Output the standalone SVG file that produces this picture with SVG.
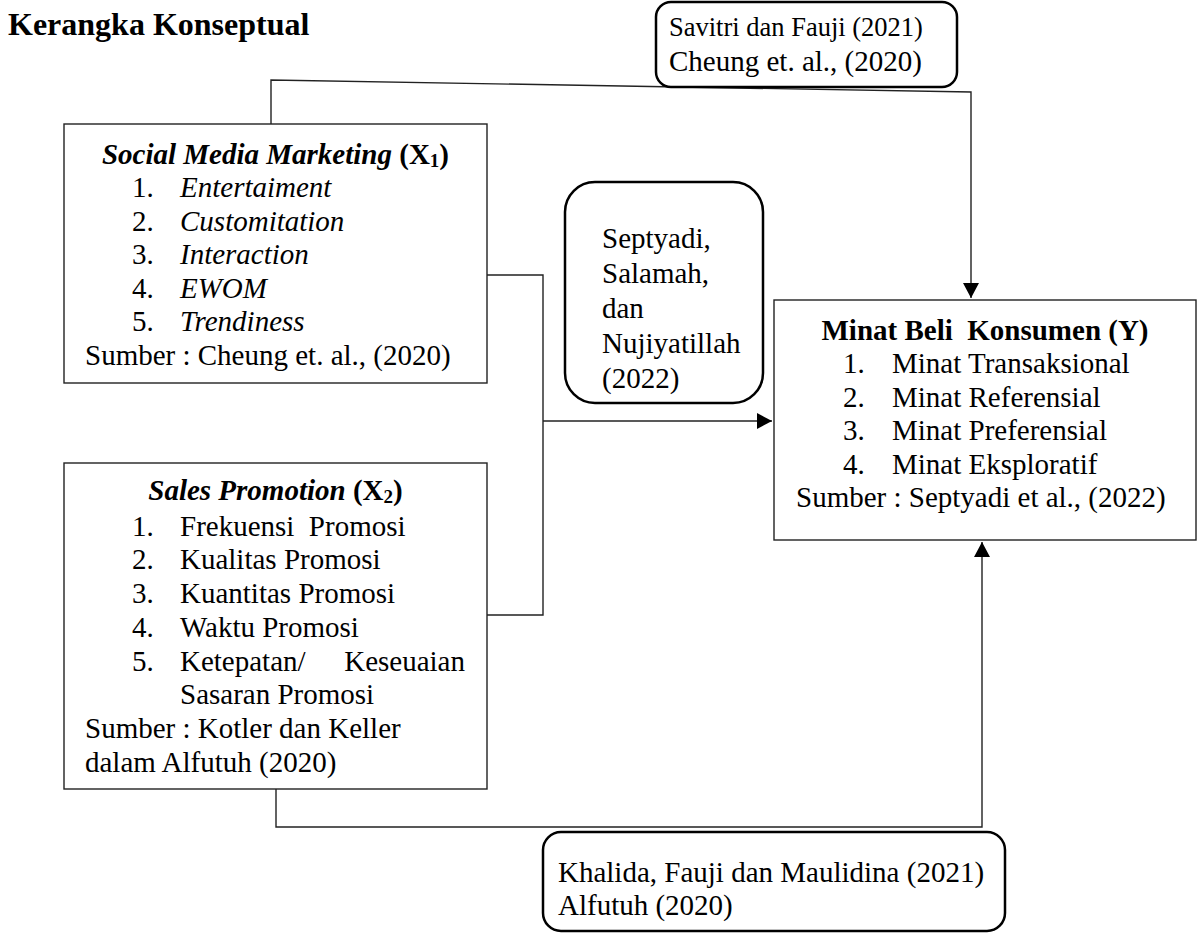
<svg xmlns="http://www.w3.org/2000/svg" width="1200" height="933" viewBox="0 0 1200 933" font-family="'Liberation Serif', 'Times New Roman', Times, 'DejaVu Serif', serif">
<style>
text{font-family:'Liberation Serif','Times New Roman',Times,'DejaVu Serif',serif;font-size:29px;fill:#000}
.t{font-weight:bold}
.bi{font-weight:bold;font-style:italic}
.i{font-style:italic}
.sub{font-size:19px}
.box{fill:#fff;stroke:#222;stroke-width:1.4}
.rbox{fill:#fff;stroke:#000;stroke-width:2.5}
.con{fill:none;stroke:#222;stroke-width:1.4}
</style>
<defs>
<marker id="arr" markerUnits="userSpaceOnUse" markerWidth="16" markerHeight="16" refX="15" refY="8" orient="auto">
<path d="M0,0 L15,8 L0,16 z" fill="#000"/>
</marker>
</defs>
<text x="8" y="35" class="t" style="font-size:32px">Kerangka Konseptual</text>
<g id="connectors">
<polyline class="con" points="271,124 271,80 971,92 971,298" marker-end="url(#arr)"/>
<polyline class="con" points="487,275 543,275 543,615 487,615"/>
<line class="con" x1="543" y1="421" x2="772" y2="421" marker-end="url(#arr)"/>
<polyline class="con" points="276,789 276,827 982,827 982,542" marker-end="url(#arr)"/>
</g>
<g id="savitri">
<rect class="rbox" x="656" y="2" width="301" height="85" rx="15"/>
<text x="669" y="36" style="font-size:26.5px">Savitri dan Fauji (2021)</text>
<text x="669" y="71">Cheung et. al., (2020)</text>
</g>
<g id="smm">
<rect class="box" x="64" y="124" width="423" height="259"/>
<text x="275.5" y="164" text-anchor="middle"><tspan class="bi">Social Media Marketing</tspan><tspan class="t"> (X</tspan><tspan class="t sub" dy="3">1</tspan><tspan class="t" dy="-3">)</tspan></text>
<text x="132" y="197">1.</text><text x="180" y="197" class="i">Entertaiment</text>
<text x="132" y="231">2.</text><text x="180" y="231" class="i">Customitation</text>
<text x="132" y="264">3.</text><text x="180" y="264" class="i">Interaction</text>
<text x="132" y="298">4.</text><text x="180" y="298" class="i">EWOM</text>
<text x="132" y="331">5.</text><text x="180" y="331" class="i">Trendiness</text>
<text x="85" y="365">Sumber : Cheung et. al., (2020)</text>
</g>
<g id="septyadi">
<rect class="rbox" x="565" y="182" width="198" height="221" rx="30"/>
<text x="602" y="248">Septyadi,</text>
<text x="602" y="283">Salamah,</text>
<text x="602" y="318">dan</text>
<text x="602" y="353">Nujiyatillah</text>
<text x="602" y="388">(2022)</text>
</g>
<g id="minat">
<rect class="box" x="774" y="300" width="422" height="240"/>
<text x="985" y="340" text-anchor="middle" class="t" xml:space="preserve">Minat Beli  Konsumen (Y)</text>
<text x="843" y="373">1.</text><text x="892" y="373">Minat Transaksional</text>
<text x="843" y="407">2.</text><text x="892" y="407">Minat Referensial</text>
<text x="843" y="440">3.</text><text x="892" y="440">Minat Preferensial</text>
<text x="843" y="474">4.</text><text x="892" y="474">Minat Eksploratif</text>
<text x="796" y="507">Sumber : Septyadi et al., (2022)</text>
</g>
<g id="sp">
<rect class="box" x="64" y="463" width="423" height="326"/>
<text x="275.5" y="500" text-anchor="middle"><tspan class="bi">Sales Promotion</tspan><tspan class="t"> (X</tspan><tspan class="t sub" dy="3">2</tspan><tspan class="t" dy="-3">)</tspan></text>
<text x="132" y="536">1.</text><text x="180" y="536" xml:space="preserve">Frekuensi  Promosi</text>
<text x="132" y="569">2.</text><text x="180" y="569">Kualitas Promosi</text>
<text x="132" y="603">3.</text><text x="180" y="603">Kuantitas Promosi</text>
<text x="132" y="637">4.</text><text x="180" y="637">Waktu Promosi</text>
<text x="132" y="671">5.</text><text x="180" y="671">Ketepatan/</text><text x="465" y="671" text-anchor="end">Keseuaian</text>
<text x="180" y="704">Sasaran Promosi</text>
<text x="85" y="738">Sumber : Kotler dan Keller</text>
<text x="85" y="772">dalam Alfutuh (2020)</text>
</g>
<g id="khalida">
<rect class="rbox" x="543" y="832" width="462" height="99" rx="18"/>
<text x="558" y="882">Khalida, Fauji dan Maulidina (2021)</text>
<text x="558" y="915">Alfutuh (2020)</text>
</g>
</svg>
